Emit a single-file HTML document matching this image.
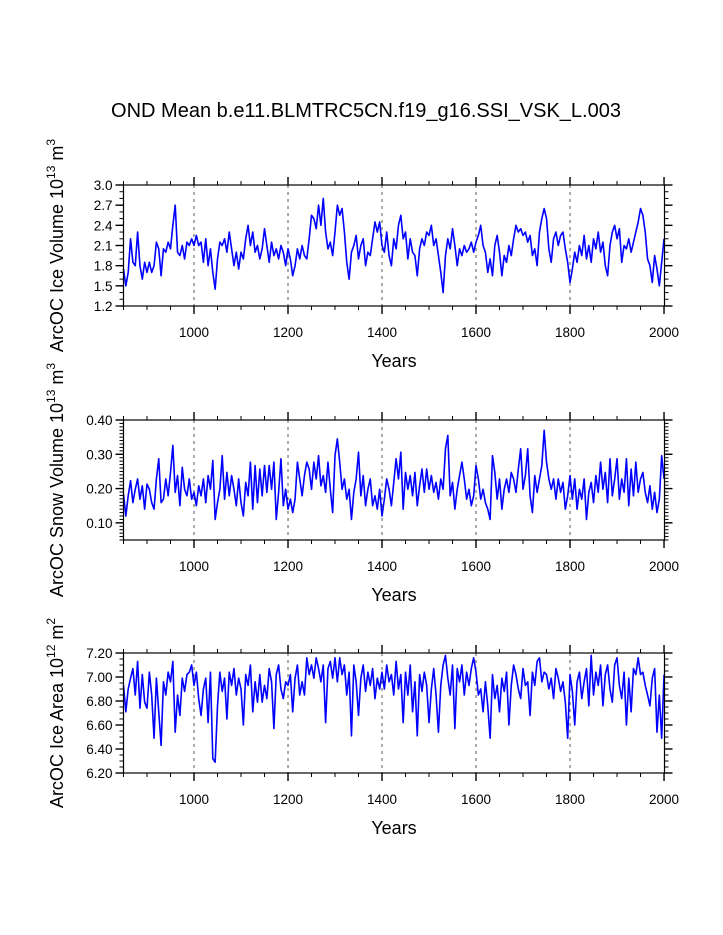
<!DOCTYPE html>
<html><head><meta charset="utf-8">
<style>
html,body{margin:0;padding:0;background:#fff;}
svg{display:block;font-family:"Liberation Sans",Arial,sans-serif;}
</style></head>
<body>
<svg id="chart" width="723" height="935" viewBox="0 0 723 935" xmlns="http://www.w3.org/2000/svg">
<text x="366" y="117" font-size="20" text-anchor="middle">OND Mean b.e11.BLMTRC5CN.f19_g16.SSI_VSK_L.003</text>
</svg>
<script>
const startYear = 850;
const stepYears = 5;
const xTickLabels = [1000, 1200, 1400, 1600, 1800, 2000];

const iceVolume = [
1.75,1.5,1.7,2.2,1.85,1.8,2.3,1.8,1.6,1.85,
1.7,1.85,1.7,1.8,2.15,2.05,1.65,2.05,2.0,2.15,
2.05,2.4,2.7,2.0,1.95,2.1,1.9,2.15,2.1,2.2,
2.1,2.25,2.1,2.15,1.85,2.2,1.8,2.05,1.7,1.45,
1.9,2.15,2.1,2.2,2.0,2.3,2.05,1.8,2.0,1.75,
2.0,1.9,2.2,2.4,2.1,2.3,2.0,2.1,1.9,2.05,
2.35,2.1,1.85,2.15,1.95,2.05,1.9,2.1,2.0,1.8,
2.05,1.9,1.65,1.8,2.05,1.9,2.1,1.95,1.9,2.2,
2.55,2.5,2.35,2.7,2.4,2.8,2.3,2.05,2.15,1.95,
2.3,2.7,2.55,2.65,2.3,1.85,1.6,2.0,2.1,2.25,
1.9,2.1,2.2,1.8,2.0,1.95,2.2,2.45,2.3,2.45,
2.1,2.0,2.3,1.95,1.8,2.2,2.05,2.4,2.55,2.2,
2.3,1.9,2.2,2.0,1.95,1.65,2.05,2.2,2.1,2.3,
2.25,2.4,2.1,2.2,1.95,1.7,1.4,1.95,2.2,2.05,
2.35,2.1,1.8,2.05,1.95,2.1,2.0,2.05,2.15,2.0,
2.15,2.25,2.4,2.1,2.0,1.7,1.9,1.65,2.1,2.25,
2.0,1.65,1.95,1.85,2.1,1.95,2.2,2.4,2.3,2.35,
2.25,2.3,2.15,2.25,1.95,2.05,1.8,2.3,2.5,2.65,
2.5,2.05,1.85,2.2,2.3,2.1,2.25,2.3,2.05,1.85,
1.55,1.75,2.0,1.85,2.1,1.95,2.25,1.9,2.1,1.85,
2.2,2.05,2.3,2.0,2.15,1.8,1.65,2.1,2.3,2.4,
2.2,2.35,1.85,2.1,2.05,2.2,2.0,2.15,2.3,2.45,
2.65,2.55,2.3,1.9,1.8,1.55,1.95,1.75,1.5,1.85,
2.2];

const snowVolume = [
.184,.12,.179,.223,.159,.198,.228,.169,.208,.14,
.213,.198,.159,.14,.228,.287,.159,.169,.228,.179,
.247,.326,.189,.238,.15,.262,.198,.179,.228,.169,
.189,.15,.208,.179,.228,.159,.238,.198,.282,.11,
.159,.198,.296,.169,.247,.179,.238,.198,.15,.228,
.159,.12,.218,.179,.277,.14,.267,.159,.257,.179,
.267,.189,.267,.198,.277,.11,.189,.287,.15,.198,
.14,.169,.13,.169,.277,.228,.179,.238,.277,.257,
.198,.277,.228,.296,.208,.238,.189,.277,.198,.13,
.296,.345,.277,.198,.228,.169,.198,.11,.189,.228,
.306,.179,.238,.15,.198,.228,.15,.179,.14,.198,
.12,.169,.228,.198,.15,.218,.287,.228,.306,.14,
.247,.198,.238,.179,.247,.15,.208,.257,.189,.257,
.198,.238,.189,.218,.169,.228,.198,.316,.355,.179,
.218,.14,.198,.238,.277,.228,.169,.198,.15,.179,
.267,.228,.169,.198,.159,.14,.11,.296,.247,.169,
.228,.14,.198,.228,.189,.247,.228,.189,.257,.316,
.198,.238,.316,.179,.13,.238,.189,.228,.267,.37,
.277,.228,.198,.228,.169,.228,.189,.218,.14,.179,
.238,.169,.228,.14,.198,.169,.228,.11,.189,.218,
.159,.238,.189,.277,.198,.247,.159,.287,.179,.228,
.287,.169,.228,.189,.287,.15,.257,.179,.277,.189,
.228,.247,.189,.159,.208,.14,.189,.13,.169,.296,
.228];

const iceArea = [
6.93,6.71,6.90,6.99,7.07,6.85,7.13,6.74,7.02,6.79,
6.74,7.04,6.85,6.49,6.99,6.71,6.43,6.96,6.85,7.04,
6.96,7.13,6.54,6.85,6.68,6.99,6.88,7.02,7.04,7.10,
6.93,7.04,6.82,6.68,6.90,6.99,6.62,7.04,6.32,6.29,
6.76,7.04,6.88,6.99,6.65,7.04,6.93,7.07,6.85,6.99,
6.90,6.60,7.02,6.93,7.10,6.71,6.96,6.79,7.02,6.79,
6.93,6.82,7.07,6.96,6.57,7.02,7.10,6.90,6.82,6.96,
6.93,7.02,6.71,6.99,7.10,6.85,6.96,6.85,7.16,7.02,
7.10,6.99,7.16,7.07,6.96,7.10,6.62,7.07,7.13,6.99,
7.16,6.96,7.16,7.02,7.10,6.85,7.04,6.51,7.10,6.96,
6.68,6.99,7.10,6.88,7.04,6.93,7.07,6.82,6.99,6.90,
7.04,6.90,7.10,6.96,7.02,6.85,7.13,6.90,7.02,6.62,
7.04,6.85,7.10,6.71,6.96,6.51,7.02,6.88,7.04,6.93,
6.62,6.90,7.07,6.85,6.54,6.93,7.10,7.18,6.99,6.85,
7.10,6.57,7.07,6.96,7.10,6.85,7.04,6.93,7.07,7.16,
7.04,6.85,6.90,6.71,6.96,6.76,6.49,7.02,6.82,6.93,
6.71,6.99,6.88,7.04,6.60,6.93,7.10,7.02,6.90,6.82,
7.07,6.93,6.96,6.68,7.04,6.93,7.13,7.16,6.96,7.04,
7.02,6.90,6.99,6.82,7.07,6.99,6.88,6.96,6.79,6.49,
7.02,6.88,6.60,6.96,7.04,6.82,6.96,7.07,6.76,7.18,
6.85,7.04,6.93,7.10,6.76,7.02,7.10,6.90,6.79,7.10,
7.16,6.93,6.82,7.04,6.60,6.99,6.71,7.07,7.02,7.16,
7.02,7.04,6.93,6.85,6.76,6.99,7.07,6.54,6.85,6.49,
7.02];

const iceVolumeTicks = ["1.2","1.5","1.8","2.1","2.4","2.7","3.0"];
const snowTicks = ["0.10","0.20","0.30","0.40"];
const areaTicks = ["6.20","6.40","6.60","6.80","7.00","7.20"];

const NS = "http://www.w3.org/2000/svg";
const svg = document.getElementById("chart");
const X0 = 123.5, X1 = 664.5, XMIN = 850, XMAX = 2001;
function xScale(yr){ return X0 + (yr - XMIN) / (XMAX - XMIN) * (X1 - X0); }
function mk(tag, attrs, parent){
  const e = document.createElementNS(NS, tag);
  for (const k in attrs) e.setAttribute(k, attrs[k]);
  (parent || svg).appendChild(e);
  return e;
}

function panel(cfg){
  const g = mk("g", {});
  
  
  const yS = v => cfg.y1 - (v - cfg.vmin) / (cfg.vmax - cfg.vmin) * (cfg.y1 - cfg.y0);
  for (let yr = 1000; yr <= 1800; yr += 200){
    const l = mk("line", {x1:xScale(yr), x2:xScale(yr), y1:cfg.y0, y2:cfg.y1, stroke:"#555", "stroke-width":1, "stroke-dasharray":"3,4"}, g);
    
    
  }
  let d = "";
  cfg.data.forEach((v, i) => {
    const yr = startYear + i * stepYears;
    d += (i ? "L" : "M") + xScale(yr).toFixed(2) + "," + yS(v).toFixed(2);
  });
  const p = mk("path", {d:d, fill:"none", stroke:"#0000ff", "stroke-width":1.6, "stroke-linejoin":"round"}, g);
  
  
  const r = mk("rect", {x:X0, y:cfg.y0, width:X1-X0, height:cfg.y1-cfg.y0, fill:"none", stroke:"#000", "stroke-width":1.2}, g);
  
  
  for (let yr = 850; yr <= 2000; yr += 50){
    const x = xScale(yr), major = (yr % 200 === 0);
    const len = major ? 8 : 4;
    mk("line", {x1:x, x2:x, y1:cfg.y1, y2:cfg.y1+len, stroke:"#000", "stroke-width":major?1.4:1}, g);
    mk("line", {x1:x, x2:x, y1:cfg.y0, y2:cfg.y0-len, stroke:"#000", "stroke-width":major?1.4:1}, g);
  }
  xTickLabels.forEach(yr => {
    const t = mk("text", {x:xScale(yr), y:cfg.y1+31, "font-size":13.5, "text-anchor":"middle"}, g);
    t.textContent = yr;
    
    
  });
  const xt = mk("text", {x:394, y:cfg.y1+61, "font-size":18, "text-anchor":"middle"}, g);
  xt.textContent = "Years";
  
  
  for (let v = cfg.vmin; v <= cfg.vmax + 1e-9; v += cfg.minor){
    const y = yS(v);
    mk("line", {x1:X0, x2:X0-4, y1:y, y2:y, stroke:"#000", "stroke-width":1}, g);
    mk("line", {x1:X1, x2:X1+4, y1:y, y2:y, stroke:"#000", "stroke-width":1}, g);
  }
  cfg.ticks.forEach(lab => {
    const y = yS(parseFloat(lab));
    mk("line", {x1:X0, x2:X0-8, y1:y, y2:y, stroke:"#000", "stroke-width":1.4}, g);
    mk("line", {x1:X1, x2:X1+8, y1:y, y2:y, stroke:"#000", "stroke-width":1.4}, g);
    const t = mk("text", {x:X0-11, y:y+5, "font-size":13.5, "text-anchor":"end"}, g);
    t.textContent = lab;
    
    
  });
  const cy = (cfg.y0 + cfg.y1) / 2;
  const yt = mk("text", {x:0, y:0, "font-size":18, "text-anchor":"middle", transform:"translate(63," + cy + ") rotate(-90)"}, g);
  yt.innerHTML = cfg.title;
  
  
}

panel({name:"ice-volume-panel", y0:185, y1:306, vmin:1.2, vmax:3.0, minor:0.1, ticks:iceVolumeTicks, data:iceVolume,
  title:'ArcOC Ice Volume 10<tspan font-size="12" dy="-8">13</tspan><tspan dy="8"> m</tspan><tspan font-size="12" dy="-8">3</tspan>'});
panel({name:"snow-volume-panel", y0:420, y1:540, vmin:0.05, vmax:0.40, minor:0.01, ticks:snowTicks, data:snowVolume,
  title:'ArcOC Snow Volume 10<tspan font-size="12" dy="-8">13</tspan><tspan dy="8"> m</tspan><tspan font-size="12" dy="-8">3</tspan>'});
panel({name:"ice-area-panel", y0:653, y1:773, vmin:6.2, vmax:7.2, minor:0.05, ticks:areaTicks, data:iceArea,
  title:'ArcOC Ice Area 10<tspan font-size="12" dy="-8">12</tspan><tspan dy="8"> m</tspan><tspan font-size="12" dy="-8">2</tspan>'});
</script>
</body></html>
